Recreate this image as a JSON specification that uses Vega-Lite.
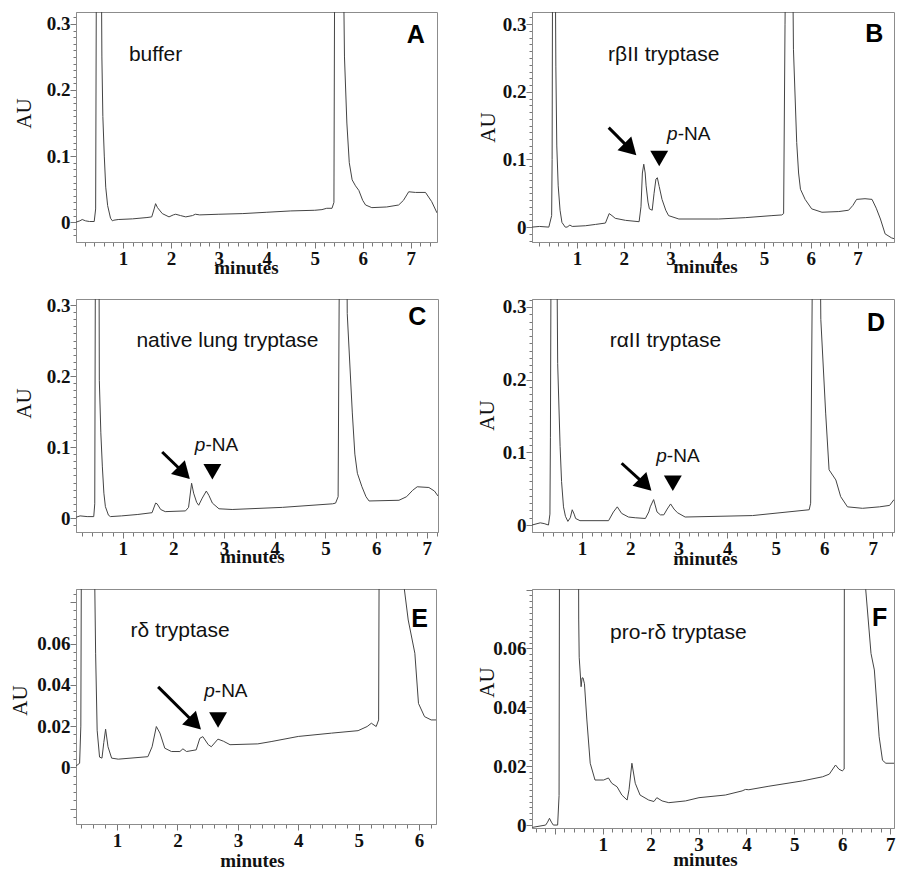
{
"$schema": "https://vega.github.io/schema/vega-lite/v6.json",
"background": "white",
"padding": {"left": 8, "top": 7, "right": 5, "bottom": 5},
"bounds": "flush",
"columns": 2,
"spacing": {"row": 57, "column": 94},
"config": {
  "view": {"stroke": "#8c8c8c", "strokeWidth": 1},
  "axis": {"domainColor": "#8c8c8c", "tickColor": "#777777", "tickWidth": 1, "grid": false, "labelOverlap": false, "labelFlush": false, "labelBound": false, "tickCount": 500,
           "labelFont": "Liberation Serif", "labelFontWeight": "bold", "labelFontSize": 19, "labelColor": "#111111",
           "titleFont": "Liberation Serif", "titleColor": "#111111", "titleBaseline": "middle"},
  "axisX": {"titleFontWeight": "bold", "titleFontSize": 19, "labelOverlap": false, "labelPadding": 1},
  "axisY": {"titleFontWeight": "normal", "titleFontSize": 21, "labelOverlap": false, "labelPadding": 0}
},
"datasets": {
 "A": [{"t":0.02,"v":0.0},{"t":0.1,"v":0.002},{"t":0.15,"v":0.004},{"t":0.22,"v":0.002},{"t":0.3,"v":0.001},{"t":0.4,"v":0.001},{"t":0.43,"v":0.02},{"t":0.45,"v":0.5},{"t":0.5,"v":1.0},{"t":0.54,"v":0.5},{"t":0.56,"v":0.25},{"t":0.58,"v":0.16},{"t":0.61,"v":0.1},{"t":0.64,"v":0.053},{"t":0.68,"v":0.025},{"t":0.74,"v":0.006},{"t":0.78,"v":0.002},{"t":0.81,"v":0.003},{"t":0.9,"v":0.004},{"t":1.2,"v":0.005},{"t":1.5,"v":0.007},{"t":1.6,"v":0.008},{"t":1.65,"v":0.02},{"t":1.68,"v":0.028},{"t":1.72,"v":0.022},{"t":1.82,"v":0.013},{"t":1.96,"v":0.008},{"t":2.05,"v":0.011},{"t":2.1,"v":0.012},{"t":2.2,"v":0.01},{"t":2.31,"v":0.008},{"t":2.45,"v":0.01},{"t":2.51,"v":0.012},{"t":2.6,"v":0.011},{"t":3.0,"v":0.012},{"t":3.5,"v":0.013},{"t":4.0,"v":0.015},{"t":4.5,"v":0.017},{"t":5.0,"v":0.018},{"t":5.15,"v":0.019},{"t":5.25,"v":0.021},{"t":5.36,"v":0.021},{"t":5.4,"v":0.03},{"t":5.42,"v":0.5},{"t":5.5,"v":1.0},{"t":5.58,"v":0.5},{"t":5.62,"v":0.25},{"t":5.67,"v":0.15},{"t":5.72,"v":0.09},{"t":5.78,"v":0.064},{"t":5.85,"v":0.055},{"t":5.92,"v":0.048},{"t":6.0,"v":0.033},{"t":6.06,"v":0.026},{"t":6.19,"v":0.022},{"t":6.5,"v":0.023},{"t":6.75,"v":0.026},{"t":6.85,"v":0.033},{"t":6.96,"v":0.046},{"t":7.1,"v":0.045},{"t":7.31,"v":0.045},{"t":7.44,"v":0.031},{"t":7.55,"v":0.014}],
 "B": [{"t":0.04,"v":0.0},{"t":0.2,"v":0.001},{"t":0.4,"v":0.0},{"t":0.46,"v":0.017},{"t":0.47,"v":0.1},{"t":0.5,"v":1.0},{"t":0.53,"v":0.5},{"t":0.55,"v":0.238},{"t":0.57,"v":0.12},{"t":0.6,"v":0.061},{"t":0.64,"v":0.025},{"t":0.68,"v":0.007},{"t":0.75,"v":0.0},{"t":0.79,"v":0.0},{"t":0.85,"v":0.003},{"t":0.9,"v":0.001},{"t":1.18,"v":0.002},{"t":1.4,"v":0.004},{"t":1.61,"v":0.006},{"t":1.69,"v":0.02},{"t":1.75,"v":0.017},{"t":1.82,"v":0.013},{"t":2.04,"v":0.01},{"t":2.33,"v":0.008},{"t":2.37,"v":0.03},{"t":2.4,"v":0.08},{"t":2.43,"v":0.093},{"t":2.46,"v":0.08},{"t":2.48,"v":0.061},{"t":2.52,"v":0.037},{"t":2.55,"v":0.027},{"t":2.61,"v":0.025},{"t":2.65,"v":0.05},{"t":2.69,"v":0.071},{"t":2.72,"v":0.073},{"t":2.76,"v":0.06},{"t":2.82,"v":0.041},{"t":2.9,"v":0.025},{"t":2.96,"v":0.017},{"t":3.18,"v":0.012},{"t":4.03,"v":0.012},{"t":4.6,"v":0.014},{"t":5.17,"v":0.017},{"t":5.38,"v":0.018},{"t":5.42,"v":0.02},{"t":5.45,"v":0.3},{"t":5.55,"v":1.0},{"t":5.6,"v":0.5},{"t":5.63,"v":0.263},{"t":5.7,"v":0.125},{"t":5.74,"v":0.08},{"t":5.78,"v":0.056},{"t":5.88,"v":0.041},{"t":6.02,"v":0.027},{"t":6.24,"v":0.022},{"t":6.6,"v":0.023},{"t":6.81,"v":0.025},{"t":6.9,"v":0.032},{"t":6.98,"v":0.041},{"t":7.16,"v":0.042},{"t":7.31,"v":0.041},{"t":7.4,"v":0.028},{"t":7.49,"v":0.012},{"t":7.59,"v":-0.01},{"t":7.73,"v":-0.016},{"t":7.78,"v":-0.017}],
 "C": [{"t":0.08,"v":0.001},{"t":0.16,"v":0.003},{"t":0.3,"v":0.002},{"t":0.43,"v":0.002},{"t":0.45,"v":0.02},{"t":0.46,"v":0.3},{"t":0.5,"v":1.0},{"t":0.53,"v":0.5},{"t":0.54,"v":0.194},{"t":0.57,"v":0.12},{"t":0.6,"v":0.072},{"t":0.63,"v":0.035},{"t":0.66,"v":0.016},{"t":0.72,"v":0.004},{"t":0.76,"v":0.002},{"t":0.98,"v":0.003},{"t":1.3,"v":0.005},{"t":1.58,"v":0.0075},{"t":1.65,"v":0.021},{"t":1.68,"v":0.02},{"t":1.75,"v":0.012},{"t":1.84,"v":0.009},{"t":2.24,"v":0.01},{"t":2.3,"v":0.015},{"t":2.36,"v":0.049},{"t":2.4,"v":0.035},{"t":2.46,"v":0.022},{"t":2.5,"v":0.018},{"t":2.57,"v":0.028},{"t":2.65,"v":0.038},{"t":2.7,"v":0.032},{"t":2.77,"v":0.021},{"t":2.9,"v":0.013},{"t":3.16,"v":0.012},{"t":4.15,"v":0.015},{"t":5.14,"v":0.02},{"t":5.2,"v":0.021},{"t":5.25,"v":0.03},{"t":5.27,"v":0.3},{"t":5.35,"v":1.0},{"t":5.42,"v":0.4},{"t":5.43,"v":0.288},{"t":5.53,"v":0.148},{"t":5.58,"v":0.09},{"t":5.63,"v":0.063},{"t":5.72,"v":0.044},{"t":5.8,"v":0.03},{"t":5.86,"v":0.024},{"t":6.45,"v":0.025},{"t":6.6,"v":0.03},{"t":6.72,"v":0.039},{"t":6.81,"v":0.044},{"t":7.04,"v":0.043},{"t":7.15,"v":0.038},{"t":7.22,"v":0.031}],
 "D": [{"t":-0.03,"v":0.0},{"t":0.14,"v":0.003},{"t":0.22,"v":0.002},{"t":0.31,"v":0.0},{"t":0.34,"v":0.015},{"t":0.35,"v":0.12},{"t":0.37,"v":0.5},{"t":0.42,"v":1.0},{"t":0.47,"v":0.5},{"t":0.5,"v":0.222},{"t":0.55,"v":0.108},{"t":0.58,"v":0.06},{"t":0.62,"v":0.025},{"t":0.66,"v":0.012},{"t":0.71,"v":0.005},{"t":0.76,"v":0.01},{"t":0.8,"v":0.021},{"t":0.84,"v":0.015},{"t":0.87,"v":0.009},{"t":0.96,"v":0.006},{"t":1.55,"v":0.006},{"t":1.65,"v":0.018},{"t":1.73,"v":0.025},{"t":1.82,"v":0.016},{"t":1.96,"v":0.011},{"t":2.1,"v":0.01},{"t":2.31,"v":0.009},{"t":2.38,"v":0.018},{"t":2.41,"v":0.025},{"t":2.48,"v":0.035},{"t":2.55,"v":0.018},{"t":2.62,"v":0.014},{"t":2.69,"v":0.014},{"t":2.76,"v":0.022},{"t":2.83,"v":0.029},{"t":2.9,"v":0.022},{"t":2.97,"v":0.017},{"t":3.13,"v":0.011},{"t":4.52,"v":0.013},{"t":5.69,"v":0.021},{"t":5.72,"v":0.03},{"t":5.75,"v":0.3},{"t":5.82,"v":1.0},{"t":5.9,"v":0.5},{"t":5.93,"v":0.283},{"t":6.03,"v":0.154},{"t":6.1,"v":0.076},{"t":6.24,"v":0.062},{"t":6.34,"v":0.039},{"t":6.48,"v":0.025},{"t":6.79,"v":0.023},{"t":7.14,"v":0.025},{"t":7.35,"v":0.027},{"t":7.44,"v":0.035}],
 "E": [{"t":0.32,"v":0.0007},{"t":0.38,"v":0.002},{"t":0.4,"v":0.02},{"t":0.42,"v":0.2},{"t":0.52,"v":0.3},{"t":0.62,"v":0.2},{"t":0.63,"v":0.09},{"t":0.645,"v":0.055},{"t":0.67,"v":0.018},{"t":0.71,"v":0.005},{"t":0.75,"v":0.0045},{"t":0.78,"v":0.012},{"t":0.81,"v":0.0185},{"t":0.85,"v":0.01},{"t":0.91,"v":0.0045},{"t":1.02,"v":0.004},{"t":1.51,"v":0.0052},{"t":1.58,"v":0.01},{"t":1.65,"v":0.0198},{"t":1.71,"v":0.0166},{"t":1.79,"v":0.0093},{"t":1.9,"v":0.0077},{"t":2.04,"v":0.0077},{"t":2.09,"v":0.009},{"t":2.15,"v":0.0077},{"t":2.31,"v":0.0085},{"t":2.37,"v":0.0141},{"t":2.42,"v":0.0149},{"t":2.51,"v":0.011},{"t":2.56,"v":0.01},{"t":2.67,"v":0.0137},{"t":2.76,"v":0.0127},{"t":2.87,"v":0.011},{"t":3.33,"v":0.0114},{"t":3.55,"v":0.0125},{"t":4.0,"v":0.015},{"t":4.55,"v":0.0166},{"t":4.99,"v":0.0178},{"t":5.14,"v":0.0198},{"t":5.21,"v":0.0214},{"t":5.29,"v":0.0198},{"t":5.33,"v":0.023},{"t":5.35,"v":0.2},{"t":5.55,"v":0.3},{"t":5.72,"v":0.2},{"t":5.74,"v":0.09},{"t":5.82,"v":0.0714},{"t":5.93,"v":0.0553},{"t":5.99,"v":0.031},{"t":6.09,"v":0.0246},{"t":6.2,"v":0.023},{"t":6.28,"v":0.023}],
 "F": [{"t":-0.47,"v":-0.0008},{"t":-0.19,"v":0.0},{"t":-0.15,"v":0.001},{"t":-0.11,"v":0.0023},{"t":-0.07,"v":0.001},{"t":-0.03,"v":0.0},{"t":0.06,"v":0.0},{"t":0.09,"v":0.01},{"t":0.11,"v":0.2},{"t":0.48,"v":0.2},{"t":0.5,"v":0.07},{"t":0.51,"v":0.057},{"t":0.55,"v":0.047},{"t":0.57,"v":0.05},{"t":0.59,"v":0.05},{"t":0.62,"v":0.048},{"t":0.67,"v":0.0357},{"t":0.74,"v":0.021},{"t":0.84,"v":0.0153},{"t":1.02,"v":0.0153},{"t":1.12,"v":0.016},{"t":1.19,"v":0.0142},{"t":1.3,"v":0.013},{"t":1.4,"v":0.0102},{"t":1.51,"v":0.0085},{"t":1.55,"v":0.012},{"t":1.61,"v":0.021},{"t":1.68,"v":0.0142},{"t":1.78,"v":0.0102},{"t":1.96,"v":0.0085},{"t":2.07,"v":0.008},{"t":2.13,"v":0.0093},{"t":2.24,"v":0.0082},{"t":2.38,"v":0.0076},{"t":2.73,"v":0.0082},{"t":3.01,"v":0.0093},{"t":3.56,"v":0.0102},{"t":3.91,"v":0.0116},{"t":3.98,"v":0.0121},{"t":4.05,"v":0.012},{"t":4.47,"v":0.0132},{"t":5.17,"v":0.015},{"t":5.59,"v":0.0164},{"t":5.73,"v":0.0173},{"t":5.86,"v":0.0204},{"t":5.93,"v":0.019},{"t":6.0,"v":0.0184},{"t":6.04,"v":0.019},{"t":6.05,"v":0.2},{"t":6.48,"v":0.2},{"t":6.49,"v":0.08},{"t":6.6,"v":0.0583},{"t":6.67,"v":0.0527},{"t":6.77,"v":0.03},{"t":6.84,"v":0.022},{"t":6.91,"v":0.021},{"t":7.08,"v":0.021}]
},
"concat": [
  {"width": 361, "height": 230,
   "layer": [
    {"data": {"name": "A"}, "mark": {"type": "line", "clip": true, "color": "#444444", "strokeWidth": 1},
     "encoding": {
      "x": {"field": "t", "type": "quantitative", "scale": {"domain": [0.02, 7.55], "nice": false, "zero": false},
            "axis": {"title": "minutes", "titleX": 170, "titleY": 25, "labelOverlap": false, "tickCount": 500,
                     "values": [0.2,0.4,0.6,0.8,1,1.2,1.4,1.6,1.8,2,2.2,2.4,2.6,2.8,3,3.2,3.4,3.6,3.8,4,4.2,4.4,4.6,4.8,5,5.2,5.4,5.6,5.8,6,6.2,6.4,6.6,6.8,7,7.2,7.4],
                     "labelExpr": "datum.value % 1 === 0 ? datum.value : ''",
                     "tickSize": {"condition": {"test": "datum.value % 1 === 0", "value": 6}, "value": 4}}},
      "y": {"field": "v", "type": "quantitative", "scale": {"domain": [-0.03, 0.318], "nice": false, "zero": false},
            "axis": {"title": "AU", "titleX": -52, "titleY": 101, "labelOverlap": false, "tickCount": 500,
                     "values": [-0.02,-0.01,0,0.01,0.02,0.03,0.04,0.05,0.06,0.07,0.08,0.09,0.1,0.11,0.12,0.13,0.14,0.15,0.16,0.17,0.18,0.19,0.2,0.21,0.22,0.23,0.24,0.25,0.26,0.27,0.28,0.29,0.3,0.31],
                     "labelExpr": "abs(datum.value*10 - round(datum.value*10)) < 1e-6 && datum.value > -0.001 ? format(datum.value, '~g') : ''",
                     "tickSize": {"condition": {"test": "abs(datum.value*10 - round(datum.value*10)) < 1e-6", "value": 6}, "value": 3}}}
     }},
    {"data": {"values": [{}]}, "mark": {"type": "text", "font": "Liberation Sans", "fontSize": 21, "baseline": "middle", "align": "center", "color": "#111111"},
     "encoding": {"x": {"datum": 1.68}, "y": {"datum": 0.253}, "text": {"value": "buffer"}}},
    {"data": {"values": [{}]}, "mark": {"type": "text", "font": "Liberation Sans", "fontWeight": "bold", "fontSize": 25, "baseline": "middle", "align": "center", "color": "#000000"},
     "encoding": {"x": {"datum": 7.11}, "y": {"datum": 0.283}, "text": {"value": "A"}}}
   ]},
  {"width": 362, "height": 230,
   "layer": [
    {"data": {"name": "B"}, "mark": {"type": "line", "clip": true, "color": "#444444", "strokeWidth": 1},
     "encoding": {
      "x": {"field": "t", "type": "quantitative", "scale": {"domain": [0.04, 7.78], "nice": false, "zero": false},
            "axis": {"title": "minutes", "titleX": 173, "titleY": 24, "labelOverlap": false, "tickCount": 500,
                     "values": [0.2,0.4,0.6,0.8,1,1.2,1.4,1.6,1.8,2,2.2,2.4,2.6,2.8,3,3.2,3.4,3.6,3.8,4,4.2,4.4,4.6,4.8,5,5.2,5.4,5.6,5.8,6,6.2,6.4,6.6,6.8,7,7.2,7.4,7.6],
                     "labelExpr": "datum.value % 1 === 0 ? datum.value : ''",
                     "tickSize": {"condition": {"test": "datum.value % 1 === 0", "value": 6}, "value": 4}}},
      "y": {"field": "v", "type": "quantitative", "scale": {"domain": [-0.022, 0.318], "nice": false, "zero": false},
            "axis": {"title": "AU", "titleX": -44, "titleY": 115, "labelOverlap": false, "tickCount": 500,
                     "values": [-0.02,-0.01,0,0.01,0.02,0.03,0.04,0.05,0.06,0.07,0.08,0.09,0.1,0.11,0.12,0.13,0.14,0.15,0.16,0.17,0.18,0.19,0.2,0.21,0.22,0.23,0.24,0.25,0.26,0.27,0.28,0.29,0.3,0.31],
                     "labelExpr": "abs(datum.value*10 - round(datum.value*10)) < 1e-6 && datum.value > -0.001 ? format(datum.value, '~g') : ''",
                     "tickSize": {"condition": {"test": "abs(datum.value*10 - round(datum.value*10)) < 1e-6", "value": 6}, "value": 3}}}
     }},
    {"data": {"values": [{}]}, "mark": {"type": "text", "font": "Liberation Sans", "fontSize": 21, "baseline": "middle", "align": "center", "color": "#111111"},
     "encoding": {"x": {"datum": 2.857}, "y": {"datum": 0.254}, "text": {"value": "rβII tryptase"}}},
    {"data": {"values": [{}]}, "mark": {"type": "text", "font": "Liberation Sans", "fontWeight": "bold", "fontSize": 25, "baseline": "middle", "align": "center", "color": "#000000"},
     "encoding": {"x": {"datum": 7.357}, "y": {"datum": 0.285}, "text": {"value": "B"}}},
    {"data": {"values": [{}]}, "mark": {"type": "rule", "color": "#000000", "strokeWidth": 3},
     "encoding": {"x": {"datum": 1.68}, "y": {"datum": 0.147}, "x2": {"datum": 2.143}, "y2": {"datum": 0.115}}},
    {"data": {"values": [{}]}, "mark": {"type": "point", "shape": "triangle-up", "angle": 135, "size": 380, "filled": true, "color": "#000000", "opacity": 1},
     "encoding": {"x": {"datum": 2.143}, "y": {"datum": 0.115}}},
    {"data": {"values": [{}]}, "mark": {"type": "point", "shape": "triangle-down", "size": 320, "filled": true, "color": "#000000", "opacity": 1},
     "encoding": {"x": {"datum": 2.76}, "y": {"datum": 0.1015}}},
    {"data": {"values": [{}]}, "mark": {"type": "text", "font": "Liberation Sans", "fontStyle": "italic", "fontSize": 19, "baseline": "middle", "align": "right", "dx": -11, "color": "#111111"},
     "encoding": {"x": {"datum": 3.39}, "y": {"datum": 0.137}, "text": {"value": "p"}}},
    {"data": {"values": [{}]}, "mark": {"type": "text", "font": "Liberation Sans", "fontSize": 19, "baseline": "middle", "align": "left", "dx": -11, "color": "#111111"},
     "encoding": {"x": {"datum": 3.39}, "y": {"datum": 0.137}, "text": {"value": "-NA"}}}
   ]},
   {"width": 362, "height": 233,
    "layer": [
     {"data": {"name": "C"}, "mark": {"type": "line", "clip": true, "color": "#444444", "strokeWidth": 1},
      "encoding": {
       "x": {"field": "t", "type": "quantitative", "scale": {"domain": [0.08, 7.22], "nice": false, "zero": false},
             "axis": {"title": "minutes", "titleX": 176, "titleY": 24, "labelOverlap": false, "tickCount": 500,
                      "values": [0.2,0.4,0.6,0.8,1,1.2,1.4,1.6,1.8,2,2.2,2.4,2.6,2.8,3,3.2,3.4,3.6,3.8,4,4.2,4.4,4.6,4.8,5,5.2,5.4,5.6,5.8,6,6.2,6.4,6.6,6.8,7,7.2],
                      "labelExpr": "datum.value % 1 === 0 ? datum.value : ''",
                      "tickSize": {"condition": {"test": "datum.value % 1 === 0", "value": 6}, "value": 4}}},
       "y": {"field": "v", "type": "quantitative", "scale": {"domain": [-0.0197, 0.3085], "nice": false, "zero": false},
             "axis": {"title": "AU", "titleX": -52, "titleY": 104, "labelOverlap": false, "tickCount": 500,
                      "values": [-0.01,0,0.01,0.02,0.03,0.04,0.05,0.06,0.07,0.08,0.09,0.1,0.11,0.12,0.13,0.14,0.15,0.16,0.17,0.18,0.19,0.2,0.21,0.22,0.23,0.24,0.25,0.26,0.27,0.28,0.29,0.3],
                      "labelExpr": "abs(datum.value*10 - round(datum.value*10)) < 1e-6 && datum.value > -0.001 ? format(datum.value, '~g') : ''",
                      "tickSize": {"condition": {"test": "abs(datum.value*10 - round(datum.value*10)) < 1e-6", "value": 6}, "value": 3}}}
      }},
     {"data": {"values": [{}]}, "mark": {"type": "text", "font": "Liberation Sans", "fontSize": 21, "baseline": "middle", "align": "center", "color": "#111111"},
      "encoding": {"x": {"datum": 3.067}, "y": {"datum": 0.2497}, "text": {"value": "native lung tryptase"}}},
     {"data": {"values": [{}]}, "mark": {"type": "text", "font": "Liberation Sans", "fontWeight": "bold", "fontSize": 25, "baseline": "middle", "align": "center", "color": "#000000"},
      "encoding": {"x": {"datum": 6.81}, "y": {"datum": 0.2827}, "text": {"value": "C"}}},
     {"data": {"values": [{}]}, "mark": {"type": "rule", "color": "#000000", "strokeWidth": 3},
      "encoding": {"x": {"datum": 1.78}, "y": {"datum": 0.093}, "x2": {"datum": 2.208}, "y2": {"datum": 0.0634}}},
     {"data": {"values": [{}]}, "mark": {"type": "point", "shape": "triangle-up", "angle": 135, "size": 380, "filled": true, "color": "#000000", "opacity": 1},
      "encoding": {"x": {"datum": 2.208}, "y": {"datum": 0.0634}}},
     {"data": {"values": [{}]}, "mark": {"type": "point", "shape": "triangle-down", "size": 320, "filled": true, "color": "#000000", "opacity": 1},
      "encoding": {"x": {"datum": 2.77}, "y": {"datum": 0.065}}},
     {"data": {"values": [{}]}, "mark": {"type": "text", "font": "Liberation Sans", "fontStyle": "italic", "fontSize": 19, "baseline": "middle", "align": "right", "dx": -11, "color": "#111111"},
      "encoding": {"x": {"datum": 2.85}, "y": {"datum": 0.1028}, "text": {"value": "p"}}},
     {"data": {"values": [{}]}, "mark": {"type": "text", "font": "Liberation Sans", "fontSize": 19, "baseline": "middle", "align": "left", "dx": -11, "color": "#111111"},
      "encoding": {"x": {"datum": 2.85}, "y": {"datum": 0.1028}, "text": {"value": "-NA"}}}
    ]},
   {"width": 362, "height": 233,
    "layer": [
     {"data": {"name": "D"}, "mark": {"type": "line", "clip": true, "color": "#444444", "strokeWidth": 1},
      "encoding": {
       "x": {"field": "t", "type": "quantitative", "scale": {"domain": [-0.03, 7.44], "nice": false, "zero": false},
             "axis": {"title": "minutes", "titleX": 173, "titleY": 26, "labelOverlap": false, "tickCount": 500,
                      "values": [0.2,0.4,0.6,0.8,1,1.2,1.4,1.6,1.8,2,2.2,2.4,2.6,2.8,3,3.2,3.4,3.6,3.8,4,4.2,4.4,4.6,4.8,5,5.2,5.4,5.6,5.8,6,6.2,6.4,6.6,6.8,7,7.2,7.4],
                      "labelExpr": "datum.value % 1 === 0 ? datum.value : ''",
                      "tickSize": {"condition": {"test": "datum.value % 1 === 0", "value": 6}, "value": 4}}},
       "y": {"field": "v", "type": "quantitative", "scale": {"domain": [-0.0096, 0.311], "nice": false, "zero": false},
             "axis": {"title": "AU", "titleX": -45, "titleY": 116, "labelOverlap": false, "tickCount": 500,
                      "values": [0,0.01,0.02,0.03,0.04,0.05,0.06,0.07,0.08,0.09,0.1,0.11,0.12,0.13,0.14,0.15,0.16,0.17,0.18,0.19,0.2,0.21,0.22,0.23,0.24,0.25,0.26,0.27,0.28,0.29,0.3,0.31],
                      "labelExpr": "abs(datum.value*10 - round(datum.value*10)) < 1e-6 && datum.value > -0.001 ? format(datum.value, '~g') : ''",
                      "tickSize": {"condition": {"test": "abs(datum.value*10 - round(datum.value*10)) < 1e-6", "value": 6}, "value": 3}}}
      }},
     {"data": {"values": [{}]}, "mark": {"type": "text", "font": "Liberation Sans", "fontSize": 21, "baseline": "middle", "align": "center", "color": "#111111"},
      "encoding": {"x": {"datum": 2.723}, "y": {"datum": 0.2535}, "text": {"value": "rαII tryptase"}}},
     {"data": {"values": [{}]}, "mark": {"type": "text", "font": "Liberation Sans", "fontWeight": "bold", "fontSize": 25, "baseline": "middle", "align": "center", "color": "#000000"},
      "encoding": {"x": {"datum": 7.07}, "y": {"datum": 0.278}, "text": {"value": "D"}}},
     {"data": {"values": [{}]}, "mark": {"type": "rule", "color": "#000000", "strokeWidth": 3},
      "encoding": {"x": {"datum": 1.82}, "y": {"datum": 0.085}, "x2": {"datum": 2.311}, "y2": {"datum": 0.0552}}},
     {"data": {"values": [{}]}, "mark": {"type": "point", "shape": "triangle-up", "angle": 135, "size": 380, "filled": true, "color": "#000000", "opacity": 1},
      "encoding": {"x": {"datum": 2.311}, "y": {"datum": 0.0552}}},
     {"data": {"values": [{}]}, "mark": {"type": "point", "shape": "triangle-down", "size": 320, "filled": true, "color": "#000000", "opacity": 1},
      "encoding": {"x": {"datum": 2.876}, "y": {"datum": 0.0574}}},
     {"data": {"values": [{}]}, "mark": {"type": "text", "font": "Liberation Sans", "fontStyle": "italic", "fontSize": 19, "baseline": "middle", "align": "right", "dx": -11, "color": "#111111"},
      "encoding": {"x": {"datum": 2.98}, "y": {"datum": 0.0953}, "text": {"value": "p"}}},
     {"data": {"values": [{}]}, "mark": {"type": "text", "font": "Liberation Sans", "fontSize": 19, "baseline": "middle", "align": "left", "dx": -11, "color": "#111111"},
      "encoding": {"x": {"datum": 2.98}, "y": {"datum": 0.0953}, "text": {"value": "-NA"}}}
    ]},
   {"width": 360, "height": 235,
    "layer": [
     {"data": {"name": "E"}, "mark": {"type": "line", "clip": true, "color": "#444444", "strokeWidth": 1},
      "encoding": {
       "x": {"field": "t", "type": "quantitative", "scale": {"domain": [0.32, 6.28], "nice": false, "zero": false},
             "axis": {"title": "minutes", "titleX": 176, "titleY": 36, "labelOverlap": false, "tickCount": 500,
                      "values": [0.4,0.6,0.8,1,1.2,1.4,1.6,1.8,2,2.2,2.4,2.6,2.8,3,3.2,3.4,3.6,3.8,4,4.2,4.4,4.6,4.8,5,5.2,5.4,5.6,5.8,6,6.2],
                      "labelExpr": "datum.value % 1 === 0 ? datum.value : ''",
                      "tickSize": {"condition": {"test": "datum.value % 1 === 0", "value": 6}, "value": 4}}},
       "y": {"field": "v", "type": "quantitative", "scale": {"domain": [-0.0274, 0.0864], "nice": false, "zero": false},
             "axis": {"title": "AU", "titleX": -56, "titleY": 111, "labelOverlap": false, "tickCount": 500,
                      "values": [-0.024,-0.02,-0.016,-0.012,-0.008,-0.004,0,0.004,0.008,0.012,0.016,0.02,0.024,0.028,0.032,0.036,0.04,0.044,0.048,0.052,0.056,0.06,0.064,0.068,0.072,0.076,0.08,0.084],
                      "labelExpr": "abs(datum.value*50 - round(datum.value*50)) < 1e-6 && datum.value > -0.001 && datum.value < 0.07 ? format(datum.value, '~g') : ''",
                      "tickSize": {"condition": {"test": "abs(datum.value*50 - round(datum.value*50)) < 1e-6", "value": 6}, "value": 3}}}
      }},
     {"data": {"values": [{}]}, "mark": {"type": "text", "font": "Liberation Sans", "fontSize": 21, "baseline": "middle", "align": "center", "color": "#111111"},
      "encoding": {"x": {"datum": 2.043}, "y": {"datum": 0.0662}, "text": {"value": "rδ tryptase"}}},
     {"data": {"values": [{}]}, "mark": {"type": "text", "font": "Liberation Sans", "fontWeight": "bold", "fontSize": 25, "baseline": "middle", "align": "center", "color": "#000000"},
      "encoding": {"x": {"datum": 6.01}, "y": {"datum": 0.0718}, "text": {"value": "E"}}},
     {"data": {"values": [{}]}, "mark": {"type": "rule", "color": "#000000", "strokeWidth": 3},
      "encoding": {"x": {"datum": 1.68}, "y": {"datum": 0.039}, "x2": {"datum": 2.29}, "y2": {"datum": 0.02126}}},
     {"data": {"values": [{}]}, "mark": {"type": "point", "shape": "triangle-up", "angle": 135, "size": 380, "filled": true, "color": "#000000", "opacity": 1},
      "encoding": {"x": {"datum": 2.29}, "y": {"datum": 0.02126}}},
     {"data": {"values": [{}]}, "mark": {"type": "point", "shape": "triangle-down", "size": 320, "filled": true, "color": "#000000", "opacity": 1},
      "encoding": {"x": {"datum": 2.672}, "y": {"datum": 0.023}}},
     {"data": {"values": [{}]}, "mark": {"type": "text", "font": "Liberation Sans", "fontStyle": "italic", "fontSize": 19, "baseline": "middle", "align": "right", "dx": -11, "color": "#111111"},
      "encoding": {"x": {"datum": 2.8}, "y": {"datum": 0.0372}, "text": {"value": "p"}}},
     {"data": {"values": [{}]}, "mark": {"type": "text", "font": "Liberation Sans", "fontSize": 19, "baseline": "middle", "align": "left", "dx": -11, "color": "#111111"},
      "encoding": {"x": {"datum": 2.8}, "y": {"datum": 0.0372}, "text": {"value": "-NA"}}}
    ]},
   {"width": 362, "height": 239,
    "layer": [
     {"data": {"name": "F"}, "mark": {"type": "line", "clip": true, "color": "#444444", "strokeWidth": 1},
      "encoding": {
       "x": {"field": "t", "type": "quantitative", "scale": {"domain": [-0.475, 7.08], "nice": false, "zero": false},
             "axis": {"title": "minutes", "titleX": 173, "titleY": 31, "labelOverlap": false, "tickCount": 500,
                      "values": [-0.4,-0.2,0,0.2,0.4,0.6,0.8,1,1.2,1.4,1.6,1.8,2,2.2,2.4,2.6,2.8,3,3.2,3.4,3.6,3.8,4,4.2,4.4,4.6,4.8,5,5.2,5.4,5.6,5.8,6,6.2,6.4,6.6,6.8,7],
                      "labelExpr": "datum.value >= 1 && datum.value % 1 === 0 ? datum.value : ''",
                      "tickSize": {"condition": {"test": "datum.value % 1 === 0", "value": 6}, "value": 4}}},
       "y": {"field": "v", "type": "quantitative", "scale": {"domain": [-0.001, 0.0802], "nice": false, "zero": false},
             "axis": {"title": "AU", "titleX": -45, "titleY": 93, "labelOverlap": false, "tickCount": 500,
                      "values": [0,0.002,0.004,0.006,0.008,0.01,0.012,0.014,0.016,0.018,0.02,0.022,0.024,0.026,0.028,0.03,0.032,0.034,0.036,0.038,0.04,0.042,0.044,0.046,0.048,0.05,0.052,0.054,0.056,0.058,0.06,0.062,0.064,0.066,0.068,0.07,0.072,0.074,0.076,0.078,0.08],
                      "labelExpr": "abs(datum.value*50 - round(datum.value*50)) < 1e-6 && datum.value > -0.001 && datum.value < 0.07 ? format(datum.value, '~g') : ''",
                      "tickSize": {"condition": {"test": "abs(datum.value*50 - round(datum.value*50)) < 1e-6", "value": 6}, "value": 3}}}
      }},
     {"data": {"values": [{}]}, "mark": {"type": "text", "font": "Liberation Sans", "fontSize": 21, "baseline": "middle", "align": "center", "color": "#111111"},
      "encoding": {"x": {"datum": 2.58}, "y": {"datum": 0.0651}, "text": {"value": "pro-rδ tryptase"}}},
     {"data": {"values": [{}]}, "mark": {"type": "text", "font": "Liberation Sans", "fontWeight": "bold", "fontSize": 25, "baseline": "middle", "align": "center", "color": "#000000"},
      "encoding": {"x": {"datum": 6.78}, "y": {"datum": 0.0704}, "text": {"value": "F"}}}
    ]}
]
}
